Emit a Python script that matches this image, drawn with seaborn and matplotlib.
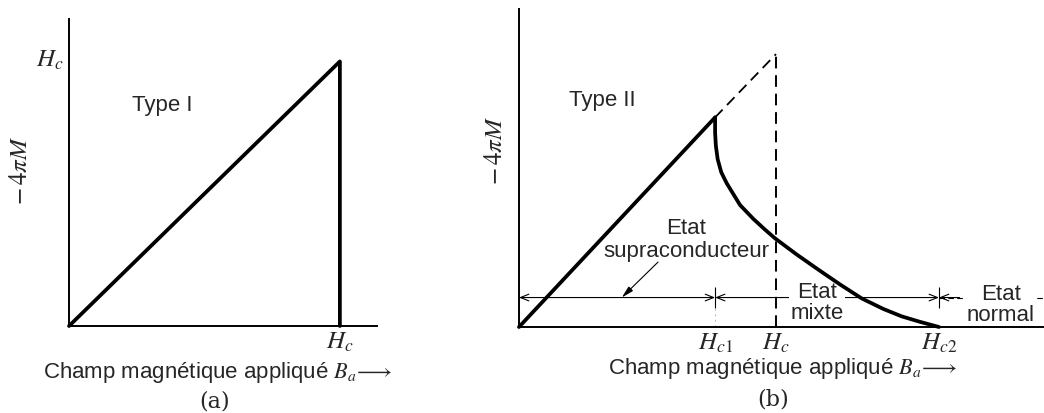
import seaborn as sns
import pandas as pd
import numpy as np
import matplotlib.pyplot as plt

# Magnetization curves of superconductors
# (unit on both axes: the thermodynamic critical field H_c = 1)

# (a) type I
type1_field = [0.0, 1.0, 1.0]
type1_magn = [0.0, 0.98, 0.0]
type1_ticks = [1.0]
type1_ticklabels = ['$H_c$']

# (b) type II
field_ticks_b = [0.763, 1.0, 1.634]
field_labels_b = ['$H_{c1}$', '$H_c$', '$H_{c2}$']

meissner_field = [0.0, 0.763]
meissner_magn = [0.0, 0.768]

extrap_field = [0.763, 1.0]
extrap_magn = [0.768, 1.0]

hc_field = [1.0, 1.0]
hc_magn = [0.0, 1.0]

mixed_field = [0.763, 0.763, 0.766, 0.773, 0.787, 0.808, 0.860, 0.912, 0.957,
               0.996, 1.080, 1.165, 1.249, 1.333, 1.418, 1.489, 1.560, 1.634]
mixed_magn = [0.768, 0.713, 0.664, 0.615, 0.567, 0.527, 0.447, 0.396, 0.357,
              0.325, 0.266, 0.210, 0.156, 0.105, 0.066, 0.039, 0.019, 0.0]

sns.set_theme(style='white')
plt.rcParams['font.family'] = ['Liberation Sans', 'DejaVu Sans']
plt.rcParams['mathtext.fontset'] = 'stix'

TXT = 16
MATH = 18
THICK = 2.7
XLAB = r'Champ magnétique appliqué $B_a\!\longrightarrow$'
YLAB = r'$-\,4\pi M$'

fig = plt.figure(figsize=(10.44, 4.14), dpi=100)
ax_a = fig.add_axes([0.0661, 0.2101, 0.295, 0.7415])
ax_b = fig.add_axes([0.4971, 0.2077, 0.503, 0.768])

for ax in (ax_a, ax_b):
    sns.despine(ax=ax)
    for s in ('left', 'bottom'):
        ax.spines[s].set_linewidth(1.4)
        ax.spines[s].set_color('black')
    ax.set_facecolor('white')

# ---- (a) Type I
sns.lineplot(x=type1_field, y=type1_magn, sort=False, estimator=None,
             color='black', lw=THICK, ax=ax_a, clip_on=False)
ax_a.set_xlim(0, 1.137)
ax_a.set_ylim(0, 1.137)
ax_a.set_xticks(type1_ticks, type1_ticklabels, fontsize=MATH)
ax_a.set_yticks(type1_ticks, type1_ticklabels, fontsize=MATH)
ax_a.tick_params(axis='x', length=0, pad=2)
ax_a.tick_params(axis='y', direction='in', length=9, width=1.0, color='black', pad=4)
ax_a.text(0.343, 0.822, 'Type I', fontsize=TXT, ha='center', va='center')
ax_a.set_ylabel(YLAB, fontsize=MATH)
ax_a.yaxis.label.set_verticalalignment('center')
ax_a.yaxis.set_label_coords(-0.159, 0.511)
ax_a.set_xlabel(XLAB, fontsize=TXT)
ax_a.xaxis.label.set_verticalalignment('center')
ax_a.xaxis.set_label_coords(0.484, -0.147)
ax_a.text(0.474, -0.244, '(a)', fontsize=TXT, ha='center', va='center',
          transform=ax_a.transAxes, family='DejaVu Serif')

# ---- (b) Type II
sns.lineplot(x=meissner_field, y=meissner_magn, sort=False, estimator=None,
             color='black', lw=THICK, ax=ax_b, clip_on=False, zorder=3)
sns.lineplot(x=mixed_field, y=mixed_magn, sort=False, estimator=None,
             color='black', lw=THICK, ax=ax_b, clip_on=False, zorder=3,
             solid_joinstyle='round')
sns.lineplot(x=extrap_field, y=extrap_magn, sort=False, estimator=None,
             color='black', lw=1.3, ls=(0, (6, 3.5)), ax=ax_b, zorder=3)
sns.lineplot(x=hc_field, y=hc_magn, sort=False, estimator=None,
             color='black', lw=1.4, ls=(0, (6, 3.5)), ax=ax_b, zorder=3)
ax_b.set_xlim(0, 2.043)
ax_b.set_ylim(0, 1.165)
ax_b.set_yticks([])
ax_b.set_xticks(field_ticks_b, field_labels_b, fontsize=MATH)
ax_b.tick_params(axis='x', length=0, pad=2)

# state ranges along the field axis (drawn beneath the state labels)
ylev = 0.108
hc1, hc, hc2 = field_ticks_b
arr = dict(arrowstyle='<->,head_length=0.5,head_width=0.2', lw=0.8,
           color='black', shrinkA=0, shrinkB=0)
ax_b.annotate('', xy=(0, ylev), xytext=(hc1, ylev), arrowprops=arr, zorder=1)
ax_b.annotate('', xy=(hc1, ylev), xytext=(hc2, ylev), arrowprops=arr, zorder=1)
ax_b.plot([hc2, 2.043], [ylev, ylev], color='black', lw=0.8, ls=(0, (5, 3)),
          zorder=1)
ax_b.annotate('', xy=(hc2, ylev), xytext=(hc2 + 0.08, ylev), zorder=1,
              arrowprops=dict(arrowstyle='->,head_length=0.5,head_width=0.2',
                              lw=0.8, color='black', shrinkA=0, shrinkB=0))
ax_b.vlines([hc1, hc2], ylev - 0.037, ylev + 0.037, color='black', lw=0.8)
ax_b.vlines([hc1], 0.0, ylev - 0.037, color='0.75', lw=0.8, ls=(0, (2, 3)))

ax_b.text(0.323, 0.835, 'Type II', fontsize=TXT, ha='center', va='center')
ax_b.text(0.650, 0.322, 'Etat\nsupraconducteur', fontsize=TXT, ha='center',
          va='center', linespacing=1.15)
ax_b.text(1.160, 0.092, 'Etat\nmixte', fontsize=TXT, ha='center', va='center',
          linespacing=1.0, zorder=2,
          bbox=dict(facecolor='white', edgecolor='none', pad=1))
ax_b.text(1.875, 0.084, 'Etat\nnormal', fontsize=TXT, ha='center', va='center',
          linespacing=1.0, zorder=2,
          bbox=dict(facecolor='white', edgecolor='none', pad=1))
ax_b.annotate('', xy=(0.400, ylev), xytext=(0.541, 0.238),
              arrowprops=dict(arrowstyle='-|>,head_length=0.6,head_width=0.15',
                              lw=0.8, color='black', shrinkA=0, shrinkB=0))

ax_b.set_ylabel(YLAB, fontsize=MATH)
ax_b.yaxis.label.set_verticalalignment('center')
ax_b.yaxis.set_label_coords(-0.046, 0.557)
ax_b.set_xlabel(XLAB, fontsize=TXT)
ax_b.xaxis.label.set_verticalalignment('center')
ax_b.xaxis.set_label_coords(0.503, -0.126)
ax_b.text(0.484, -0.226, '(b)', fontsize=TXT, ha='center', va='center',
          transform=ax_b.transAxes, family='DejaVu Serif')

fig.savefig('out.png', dpi=100, facecolor='white')
